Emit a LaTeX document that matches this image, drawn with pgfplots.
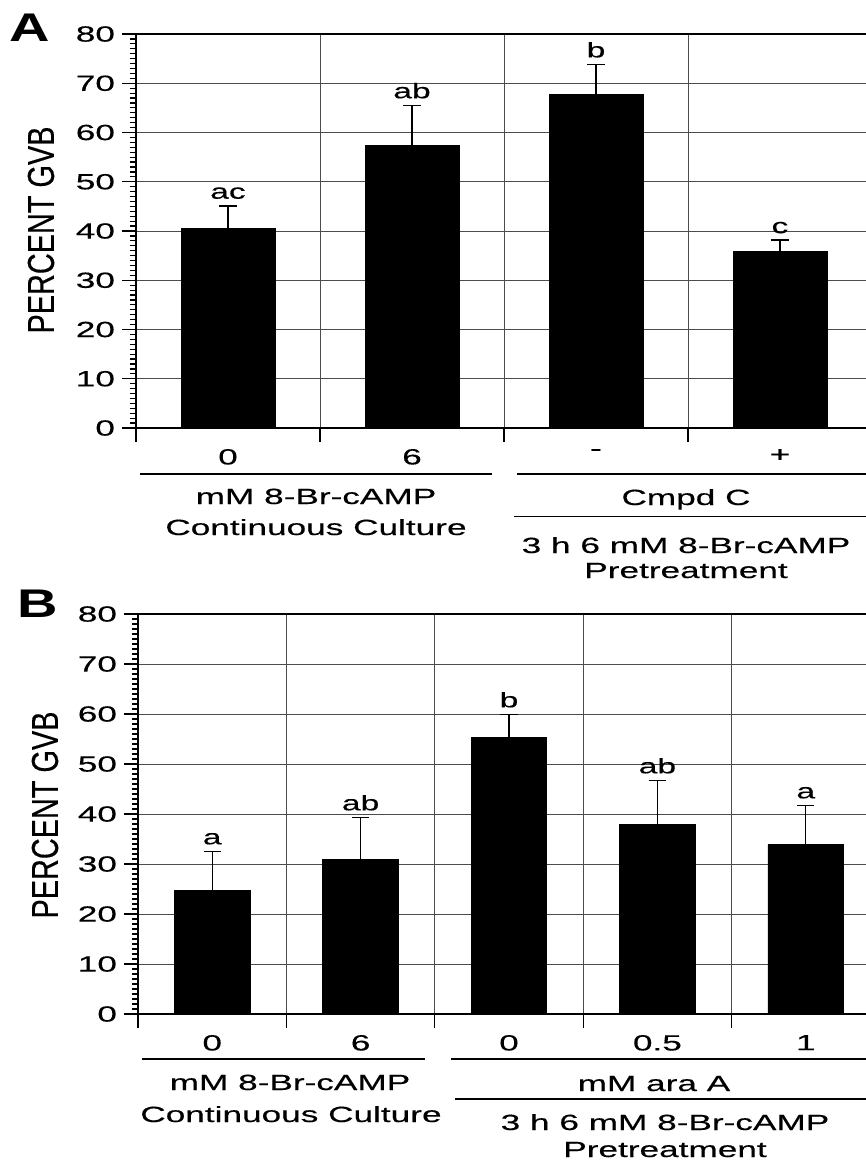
\documentclass[border=0pt]{standalone}
\usepackage{fontspec}
\setmainfont{Liberation Sans}[FakeStretch=1.6, FakeBold=0.3]
\newfontfamily\ylabfont{Liberation Sans}[FakeStretch=0.77, FakeBold=0.3]
\newfontfamily\panelfont{Liberation Sans}[FakeStretch=1.4]
\usepackage{pgfplots}
\pgfplotsset{compat=1.18}

\newcommand\lbl{\fontsize{11}{13}\selectfont}
\newcommand\ltr{\fontsize{10.5}{12}\selectfont}

\pgfplotsset{
  gvb/.style={
    scale only axis,
    anchor=south west,
    ymin=0, ymax=80,
    ytick={0,10,...,80},
    minor y tick num=9,
    tick align=outside,
    tick pos=left,
    major tick length=7pt,
    minor tick length=3pt,
    xmajorgrids, ymajorgrids,
    grid style={black!70, line width=0.5pt},
    axis line style={black, line width=0.9pt},
    tick style={black, line width=0.6pt},
    ticklabel style={font=\lbl},
    /pgf/number format/assume math mode=true,
    clip=false,
  },
  gvbbar/.style={
    ybar, bar shift=0pt, bar width=0.51,
    fill=black, draw=black,
    error bars/.cd, y dir=plus, y explicit,
    error bar style={black, line width=0.7pt},
    error mark options={rotate=90, black, line width=0.9pt, mark size=4.3pt},
  },
  gvbletters/.style={
    draw=none, mark=none,
    nodes near coords,
    point meta=explicit symbolic,
    every node near coord/.style={anchor=south, inner sep=0pt, yshift=3.3pt, font=\ltr, text=black},
  },
}

\begin{document}
\begin{tikzpicture}[x=1pt, y=1pt]
\useasboundingbox (0,0) rectangle (433,-581.5);

% panel A
\begin{axis}[gvb,
  at={(68pt,-214pt)}, width=368pt, height=197pt,
  xmin=0.5, xmax=4.5,
  xtick={0.5,1.5,2.5,3.5},
  xticklabels={0,6,-,+},
  xticklabel style={xshift=46pt},
]
\addplot[gvbbar] coordinates {
  (1,40.5) +- (0,4.6)
  (2,57.3) +- (0,8.2)
  (3,67.7) +- (0,6.1)
  (4,35.8) +- (0,2.3)
};
\addplot[gvbletters] coordinates {
  (1,45.1) [ac]
  (2,65.5) [ab]
  (3,73.8) [b]
  (4,38.1) [c]
};
\end{axis}

\node[font=\panelfont\bfseries\fontsize{20}{20}\selectfont] at (15,-13.75) {A};
\node[rotate=90, font=\ylabfont\fontsize{18.75}{20}\selectfont] at (20.5,-115) {PERCENT GVB};

\draw[line width=0.8pt] (70,-237) -- (246,-237);
\draw[line width=0.8pt] (258.5,-237) -- (440,-237);
\draw[line width=0.8pt] (257,-258.3) -- (440,-258.3);
\begin{scope}[every node/.style={font=\lbl, anchor=base, inner sep=0pt}]
\node at (158,-252) {mM 8-Br-cAMP};
\node at (158,-267.5) {Continuous Culture};
\node at (343,-252.5) {Cmpd C};
\node at (343,-276.5) {3 h 6 mM 8-Br-cAMP};
\node at (343,-289) {Pretreatment};
\end{scope}

% panel B
\begin{axis}[gvb,
  at={(69pt,-507pt)}, width=371pt, height=200pt,
  xmin=0.5, xmax=5.5,
  xtick={0.5,1.5,2.5,3.5,4.5},
  xticklabels={0,6,0,0.5,1},
  xticklabel style={xshift=37.1pt},
]
\addplot[gvbbar] coordinates {
  (1,24.7) +- (0,7.8)
  (2,31.0) +- (0,8.3)
  (3,55.4) +- (0,4.5)
  (4,38.0) +- (0,8.7)
  (5,33.9) +- (0,7.8)
};
\addplot[gvbletters] coordinates {
  (1,32.5) [a]
  (2,39.3) [ab]
  (3,59.9) [b]
  (4,46.7) [ab]
  (5,41.7) [a]
};
\end{axis}

\node[font=\panelfont\bfseries\fontsize{20}{20}\selectfont] at (18.75,-302) {B};
\node[rotate=90, font=\ylabfont\fontsize{18.75}{20}\selectfont] at (22.5,-407.5) {PERCENT GVB};

\draw[line width=0.8pt] (71,-529.5) -- (212.5,-529.5);
\draw[line width=0.8pt] (225.5,-529.5) -- (440,-529.5);
\draw[line width=0.8pt] (227.5,-549.5) -- (440,-549.5);
\begin{scope}[every node/.style={font=\lbl, anchor=base, inner sep=0pt}]
\node at (145,-545) {mM 8-Br-cAMP};
\node at (145.5,-561) {Continuous Culture};
\node at (327,-545.5) {mM ara A};
\node at (332.5,-565) {3 h 6 mM 8-Br-cAMP};
\node at (332.5,-578.5) {Pretreatment};
\end{scope}
\end{tikzpicture}
\end{document}
